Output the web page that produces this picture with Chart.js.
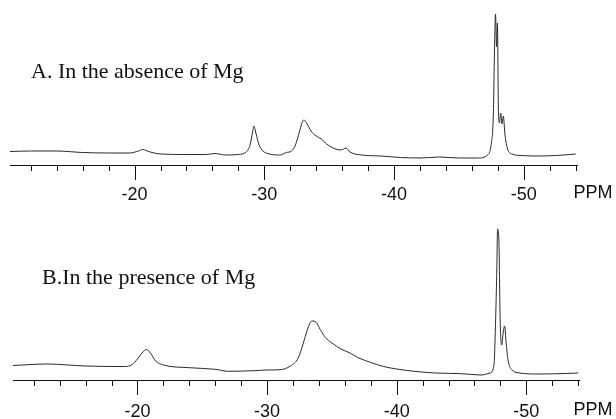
<!DOCTYPE html>
<html>
<head>
<meta charset="utf-8">
<script src="https://cdn.jsdelivr.net/npm/chart.js@4.4.1/dist/chart.umd.min.js"></script>
<style>
  html, body { margin: 0; padding: 0; background: #fff; }
  #wrap { position: relative; width: 616px; height: 419px; overflow: hidden; }
  canvas { position: absolute; left: 0; }
</style>
</head>
<body>
<div id="wrap">
  <canvas id="cA" width="616" height="207" style="top:0;width:616px;height:207px"></canvas>
  <canvas id="cB" width="616" height="212" style="top:207px;width:616px;height:212px"></canvas>
</div>
<script>
// ---------- data ----------
const titleA = "A. In the absence of Mg";
const titleB = "B.In the presence of Mg";
const axisUnit = "PPM";
const majorTicks = [-20, -30, -40, -50];
const tickLabels = ["-20", "-30", "-40", "-50"];
const minorTicks = [-12,-14,-16,-18,-20,-22,-24,-26,-28,-30,-32,-34,-36,-38,-40,-42,-44,-46,-48,-50,-52,-54];

// Spectrum A (chemical shift, ppm)
const ppmA = [-10.4,-12,-14,-16,-18,-19.6,-20.3,-20.6,-21.2,-22,-24,-25.5,-26.2,-27,-28,-28.6,-28.9,-29.1,-29.2,-29.35,-29.6,-29.9,-30.4,-31.2,-31.7,-32.1,-32.4,-32.7,-32.9,-33.05,-33.3,-33.6,-34.0,-34.4,-34.8,-35.3,-35.9,-36.3,-36.6,-37.5,-39,-40.5,-42,-43.5,-45,-46.5,-47.2,-47.5,-47.65,-47.75,-47.82,-47.9,-47.97,-48.04,-48.12,-48.22,-48.32,-48.42,-48.55,-48.75,-49.1,-49.8,-51,-52.5,-54];
// Spectrum A (intensity, arbitrary units)
const intA = [13.5,14,14,12.5,12,12,14,15.5,13,11,10.5,10.5,11.5,10,10.5,13,20,33,39,32,20,14,11,10,12.5,14,20,33,42,45,41,34,29,26,21,17,15,17,13,10,9,7.5,7,8,7,7,10,22,50,120,151,118,142,57,42,52,41,49,30,16,11,9.5,9,9.5,11];

// Spectrum B (chemical shift, ppm)
const ppmB = [-10.4,-13,-16,-19,-19.6,-20.0,-20.35,-20.7,-21.0,-21.4,-22,-24,-26,-27,-29,-30,-31,-31.8,-32.4,-32.8,-33.1,-33.45,-33.8,-34.1,-34.5,-35,-35.7,-36.4,-37,-38,-39,-40,-41.5,-43,-45,-46.5,-47.2,-47.5,-47.65,-47.72,-47.78,-47.88,-47.98,-48.1,-48.22,-48.32,-48.45,-48.6,-48.9,-49.5,-51,-53,-54];
// Spectrum B (intensity, arbitrary units)
const intB = [14.5,16,14,13.5,15.5,21,27,30.5,27,19,15,12.3,10.7,8.7,9.3,10,10.3,14,22,37,50,59,57.5,50.5,42.5,37,31,27,22.5,17.5,13.5,11,8.5,7,6.3,5,7,15,70,110,151,140,60,35,48,54,36,19,10,7,6,6.5,7];

// ---------- drawing ----------
function toPoints(xs, ys) { return xs.map((x, i) => ({ x: x, y: ys[i] })); }

function makeDecor(title, titleX, titleY, unitOffset) {
  return {
    id: 'decor',
    afterDraw(chart) {
      const ctx = chart.ctx;
      const xs = chart.scales.x;
      const base = chart.chartArea.bottom;
      ctx.save();
      ctx.strokeStyle = '#111';
      ctx.lineWidth = 1;
      minorTicks.forEach(v => {
        const px = Math.round(xs.getPixelForValue(v)) + 0.5;
        const len = majorTicks.includes(v) ? 15 : 6;
        ctx.beginPath();
        ctx.moveTo(px, base);
        ctx.lineTo(px, base + len);
        ctx.stroke();
      });
      ctx.fillStyle = '#111';
      ctx.font = '22px "Liberation Serif", "Times New Roman", serif';
      ctx.textAlign = 'left';
      ctx.textBaseline = 'alphabetic';
      ctx.fillText(title, titleX, titleY);
      ctx.font = '18px "Liberation Sans", Arial, sans-serif';
      ctx.textAlign = 'center';
      ctx.textBaseline = 'middle';
      ctx.fillText(axisUnit, 593, base + unitOffset);
      ctx.restore();
    }
  };
}

function makeChart(id, xs, ys, padL, padR, ymax, scaleH, tickPad, title, tx, ty, unitOffset) {
  return new Chart(document.getElementById(id), {
    type: 'line',
    data: {
      datasets: [{
        data: toPoints(xs, ys),
        borderColor: '#2a2a2a',
        borderWidth: 1,
        pointRadius: 0,
        fill: false,
        cubicInterpolationMode: 'monotone'
      }]
    },
    options: {
      responsive: false,
      animation: false,
      layout: { padding: { left: padL, right: padR, top: 5, bottom: 0 } },
      plugins: { legend: { display: false }, tooltip: { enabled: false }, title: { display: false } },
      scales: {
        x: {
          type: 'linear',
          reverse: true,
          min: -54.1,
          max: -10.4,
          afterBuildTicks: s => { s.ticks = minorTicks.map(v => ({ value: v })); },
          afterFit: s => { s.height = scaleH; },
          grid: { display: false, drawTicks: false },
          border: { display: true, color: '#111', width: 1 },
          ticks: {
            autoSkip: false,
            maxRotation: 0,
            padding: tickPad,
            color: '#111',
            font: { family: '"Liberation Sans", Arial, sans-serif', size: 18 },
            callback: v => { const i = majorTicks.indexOf(v); return i >= 0 ? tickLabels[i] : ''; }
          }
        },
        y: { display: false, min: 0, max: ymax }
      }
    },
    plugins: [makeDecor(title, tx, ty, unitOffset)]
  });
}

makeChart('cA', ppmA, intA, 10, 39, 160, 42, 19, titleA, 31, 78, 28);
makeChart('cB', ppmB, intB, 13, 36.5, 168, 39, 21, titleB, 42, 77, 30);
</script>
</body>
</html>
